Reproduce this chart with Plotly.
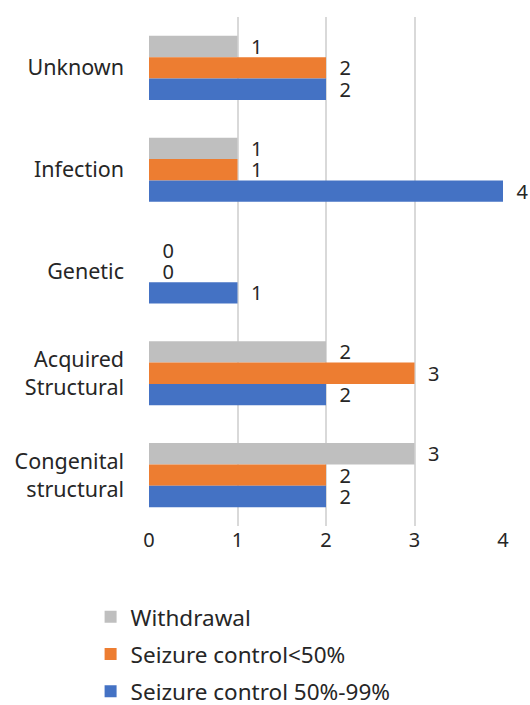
import plotly.graph_objects as go

categories = ["Unknown", "Infection", "Genetic", "Acquired<br>Structural", "Congenital<br>structural"]
series_names = ["Withdrawal", "Seizure control<50%", "Seizure control 50%-99%"]
withdrawal = [1, 1, 0, 2, 3]
control_lt50 = [2, 1, 0, 3, 2]
control_50_99 = [2, 4, 1, 2, 2]
colors = ["#BFBFBF", "#ED7D31", "#4472C4"]
x_ticks = [0, 1, 2, 3, 4]

font_family = "Noto Sans"
fig = go.Figure()
for name, vals, col in zip(series_names, [withdrawal, control_lt50, control_50_99], colors):
    fig.add_trace(go.Bar(
        y=categories, x=vals, name=name, orientation="h",
        marker=dict(color=col, line=dict(width=0)),
        text=vals, texttemplate="  %{x}", textposition="outside",
        textfont=dict(family=font_family, size=20, color="#262626"),
        constraintext="none",
        cliponaxis=False, legendgroup=name,
    ))

fig.update_layout(
    width=530, height=705,
    margin=dict(l=149, r=27, t=17, b=179, autoexpand=False),
    paper_bgcolor="white", plot_bgcolor="white",
    barmode="group", bargap=0.37, bargroupgap=0,
    font=dict(family=font_family, size=20, color="#262626"),
    showlegend=True,
    legend=dict(orientation="v", x=-0.165, xanchor="left", y=-0.137, yanchor="top",
                font=dict(family=font_family, size=22.5, color="#262626"),
                tracegroupgap=5, itemwidth=30),
    xaxis=dict(range=[0, 4], tickvals=x_ticks, showgrid=True, gridcolor="#D9D9D9", gridwidth=1.5,
               zeroline=False, showline=False, ticks="", tickfont=dict(size=20), automargin=False),
    yaxis=dict(autorange="reversed", showgrid=False, showline=False, ticks="",
               ticklabelstandoff=24, tickfont=dict(size=21.5), automargin=False),
)
fig.write_html("out.html", config={"displayModeBar": False},
               post_script="document.body.style.margin='0';")
